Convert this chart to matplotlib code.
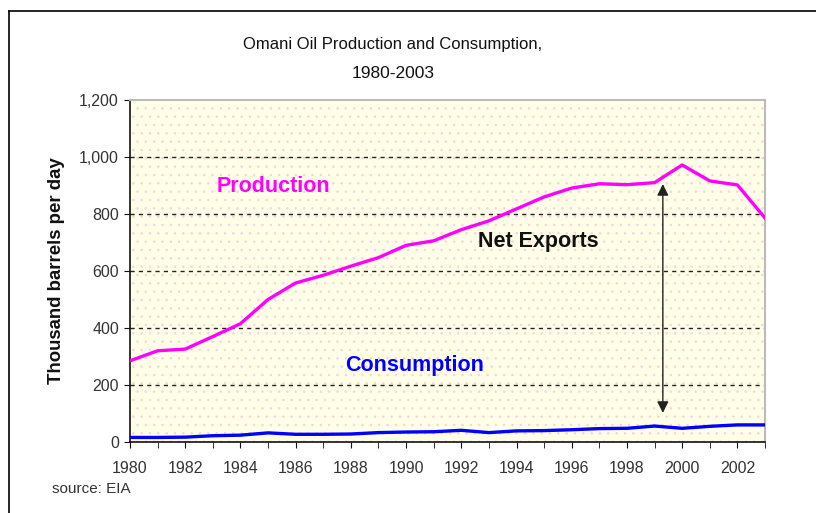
import matplotlib
matplotlib.use("Agg")
import matplotlib.pyplot as plt
from matplotlib.lines import Line2D
from matplotlib.patches import Rectangle

plt.rcParams['font.family'] = ['Liberation Sans', 'DejaVu Sans']
plt.rcParams['hatch.linewidth'] = 0.6

years = list(range(1980, 2004))
production = [285, 320, 326, 370, 415, 500, 558, 585, 617, 647, 690, 706,
              745, 776, 818, 860, 891, 906, 903, 910, 972, 916, 902, 786]
consumption = [16, 16, 17, 22, 24, 32, 27, 27, 28, 33, 35, 36,
               41, 33, 39, 40, 43, 47, 48, 56, 48, 55, 60, 60]
yticks = [0, 200, 400, 600, 800, 1000, 1200]
ytick_labels = ['0', '200', '400', '600', '800', '1,000', '1,200']
xtick_labels = [str(y) for y in range(1980, 2004, 2)]

W, H = 816, 513
fig = plt.figure(figsize=(W / 100, H / 100), dpi=100)
fig.patch.set_facecolor('white')

ax = fig.add_axes([130 / W, (H - 442) / H, 635 / W, 342 / H])
ax.set_facecolor('#FFFFE8')
ax.add_patch(Rectangle((0, 0), 1, 1, transform=ax.transAxes, facecolor='none',
                       edgecolor='#F7D3DF', hatch='..', linewidth=0, zorder=0.5))

ax.set_xlim(1980, 2003)
ax.set_ylim(0, 1200)

for v in yticks[1:-1]:
    ax.axhline(v, color='#222222', linestyle=(0, (3, 3)), linewidth=1.0, zorder=1)

ax.plot(years, production, color='#FF00FF', linewidth=2.4, zorder=3)
ax.plot(years, consumption, color='#0000FF', linewidth=2.4, zorder=3)

# Net exports arrow
ax.annotate('', xy=(1999.3, 905), xytext=(1999.3, 102),
            arrowprops=dict(arrowstyle='<|-|>', color='#222222', lw=1.0,
                            mutation_scale=17, shrinkA=0, shrinkB=0), zorder=4)

ax.text(1985.2, 898, 'Production', color='#FF00FF', fontsize=15.5,
        fontweight='bold', ha='center', va='center')
ax.text(1994.8, 705, 'Net Exports', color='#111111', fontsize=15.5,
        fontweight='bold', ha='center', va='center')
ax.text(1990.3, 267, 'Consumption', color='#0000FF', fontsize=15.5,
        fontweight='bold', ha='center', va='center')

ax.set_yticks(yticks)
ax.set_yticklabels(ytick_labels)
ax.set_xticks(years, minor=True)
ax.set_xticks(list(range(1980, 2004, 2)))
ax.set_xticklabels(xtick_labels)
ax.tick_params(axis='both', which='both', direction='out', colors='#111111',
               labelcolor='#333333', labelsize=11.5)
ax.tick_params(axis='x', which='both', length=4, pad=10)
ax.tick_params(axis='y', length=4, pad=4)

for s in ['top', 'right']:
    ax.spines[s].set_color('#BBBBBB')
    ax.spines[s].set_linewidth(1.5)
for s in ['left', 'bottom']:
    ax.spines[s].set_color('#111111')
    ax.spines[s].set_linewidth(1.2)

ax.set_ylabel('Thousand barrels per day', fontsize=13.4, fontweight='bold',
              color='#111111', labelpad=10)

fig.text(393 / W, 1 - 45 / H, 'Omani Oil Production and Consumption,',
         ha='center', va='center', fontsize=12, color='#111111')
fig.text(393 / W, 1 - 73 / H, '1980-2003', ha='center', va='center',
         fontsize=12.5, color='#111111')
fig.text(52 / W, 1 - 489 / H, 'source: EIA', ha='left', va='center',
         fontsize=11, color='#333333')

# outer frame (left and top edges)
fig.add_artist(Line2D([9 / W, 9 / W], [0, 1 - 11 / H], transform=fig.transFigure,
                      color='black', linewidth=1.2))
fig.add_artist(Line2D([9 / W, 1], [1 - 11 / H, 1 - 11 / H], transform=fig.transFigure,
                      color='black', linewidth=1.2))

fig.savefig('out.png', dpi=100)
